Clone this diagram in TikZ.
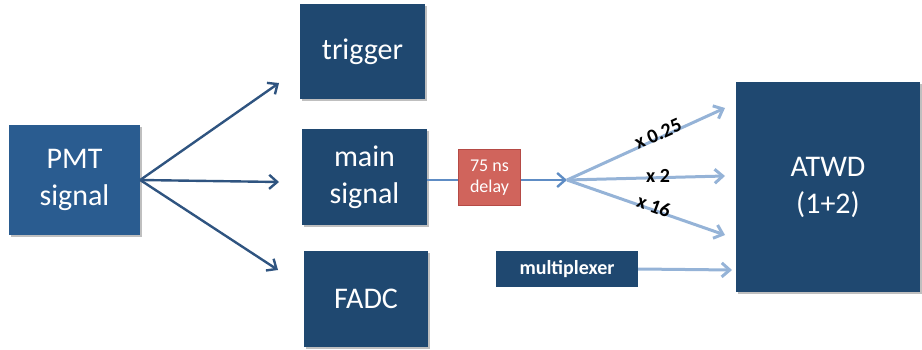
\documentclass[tikz,border=0pt]{standalone}
\usepackage{fontspec}
\setmainfont{Carlito}
\usetikzlibrary{arrows.meta,shadows}

\definecolor{boxdark}{HTML}{1F4870}
\definecolor{boxpmt}{HTML}{2A5C90}
\definecolor{arrdark}{HTML}{2F5480}
\definecolor{arrlight}{HTML}{95B3D7}
\definecolor{arrmid}{HTML}{5E8CC4}
\definecolor{delayfill}{HTML}{D0645C}
\definecolor{delayedge}{HTML}{B54A45}

\tikzset{
  block/.style={rectangle, fill=boxdark, text=white, align=center,
    inner sep=0pt, font=\fontsize{30}{37}\selectfont,
    drop shadow={shadow xshift=1.5pt, shadow yshift=-2pt, fill=black, opacity=0.25}},
  darkarrow/.style={draw=arrdark, line width=2.4pt,
    -{Straight Barb[length=8pt, width=14pt, line width=2.4pt]}},
  lightarrow/.style={draw=arrlight, line width=3pt,
    -{Straight Barb[length=8pt, width=14pt, line width=3pt]}},
  gainlabel/.style={font=\fontsize{20}{24}\selectfont\bfseries, text=black, inner sep=0pt}
}

\begin{document}
\begin{tikzpicture}[x=1pt, y=-1pt]
\useasboundingbox (0,0) rectangle (922,350);

% source and the three first-stage blocks
\node[block, fill=boxpmt, minimum width=131pt, minimum height=110pt] (pmt) at (74.5,180) {PMT\\signal};
\node[block, minimum width=125pt, minimum height=95pt] (trig) at (362.5,51.5) {trigger};
\node[block, minimum width=125pt, minimum height=96pt] (main) at (364.5,177) {main\\signal};
\node[block, minimum width=124pt, minimum height=96pt] (fadc) at (366,299) {FADC};

% digitizer and its inputs
\node[block, minimum width=184pt, minimum height=210pt] (atwd) at (828,187) {ATWD\\(1+2)};
\node[rectangle, fill=delayfill, draw=delayedge, line width=1.5pt, text=white,
      align=center, inner sep=0pt, minimum width=62pt, minimum height=56pt,
      font=\fontsize{18}{21}\selectfont] (delay) at (489.5,177.5) {75 ns\\delay};
\node[rectangle, fill=boxdark, text=white, inner sep=0pt, minimum width=142pt,
      minimum height=36pt, font=\fontsize{20}{24}\selectfont\bfseries] (mux) at (567,269) {multiplexer};

% free arrow ends
\coordinate (t1) at (279,83);
\coordinate (t2) at (279,182);
\coordinate (t3) at (278,270);
\coordinate (fork) at (567,180);
\coordinate (a1) at (725,108);
\coordinate (a2) at (725,176);
\coordinate (a3) at (725,235);
\coordinate (a4) at (732,270);

% PMT fan-out
\draw[darkarrow] (pmt.east) -- (t1);
\draw[darkarrow] (pmt.east) -- (t2);
\draw[darkarrow] (pmt.east) -- (t3);

% delayed signal path
\draw[draw=arrmid, line width=2.4pt] (main.east |- fork) -- (delay.west |- fork);
\draw[draw=arrmid, line width=2.4pt,
      -{Straight Barb[length=8pt, width=14pt, line width=2.4pt]}] (delay.east |- fork) -- (fork);

% gain stages into the ATWD
\draw[lightarrow] (fork) -- (a1);
\draw[lightarrow] (fork) -- (a2);
\draw[lightarrow] (fork) -- (a3);
\draw[lightarrow] (mux.east) -- (a4);

\node[gainlabel, rotate=24] (g1) at (658,134) {x 0.25};
\node[gainlabel] (g2) at (658,176) {x 2};
\node[gainlabel, rotate=-20] (g3) at (654,206) {x 16};
\end{tikzpicture}
\end{document}
